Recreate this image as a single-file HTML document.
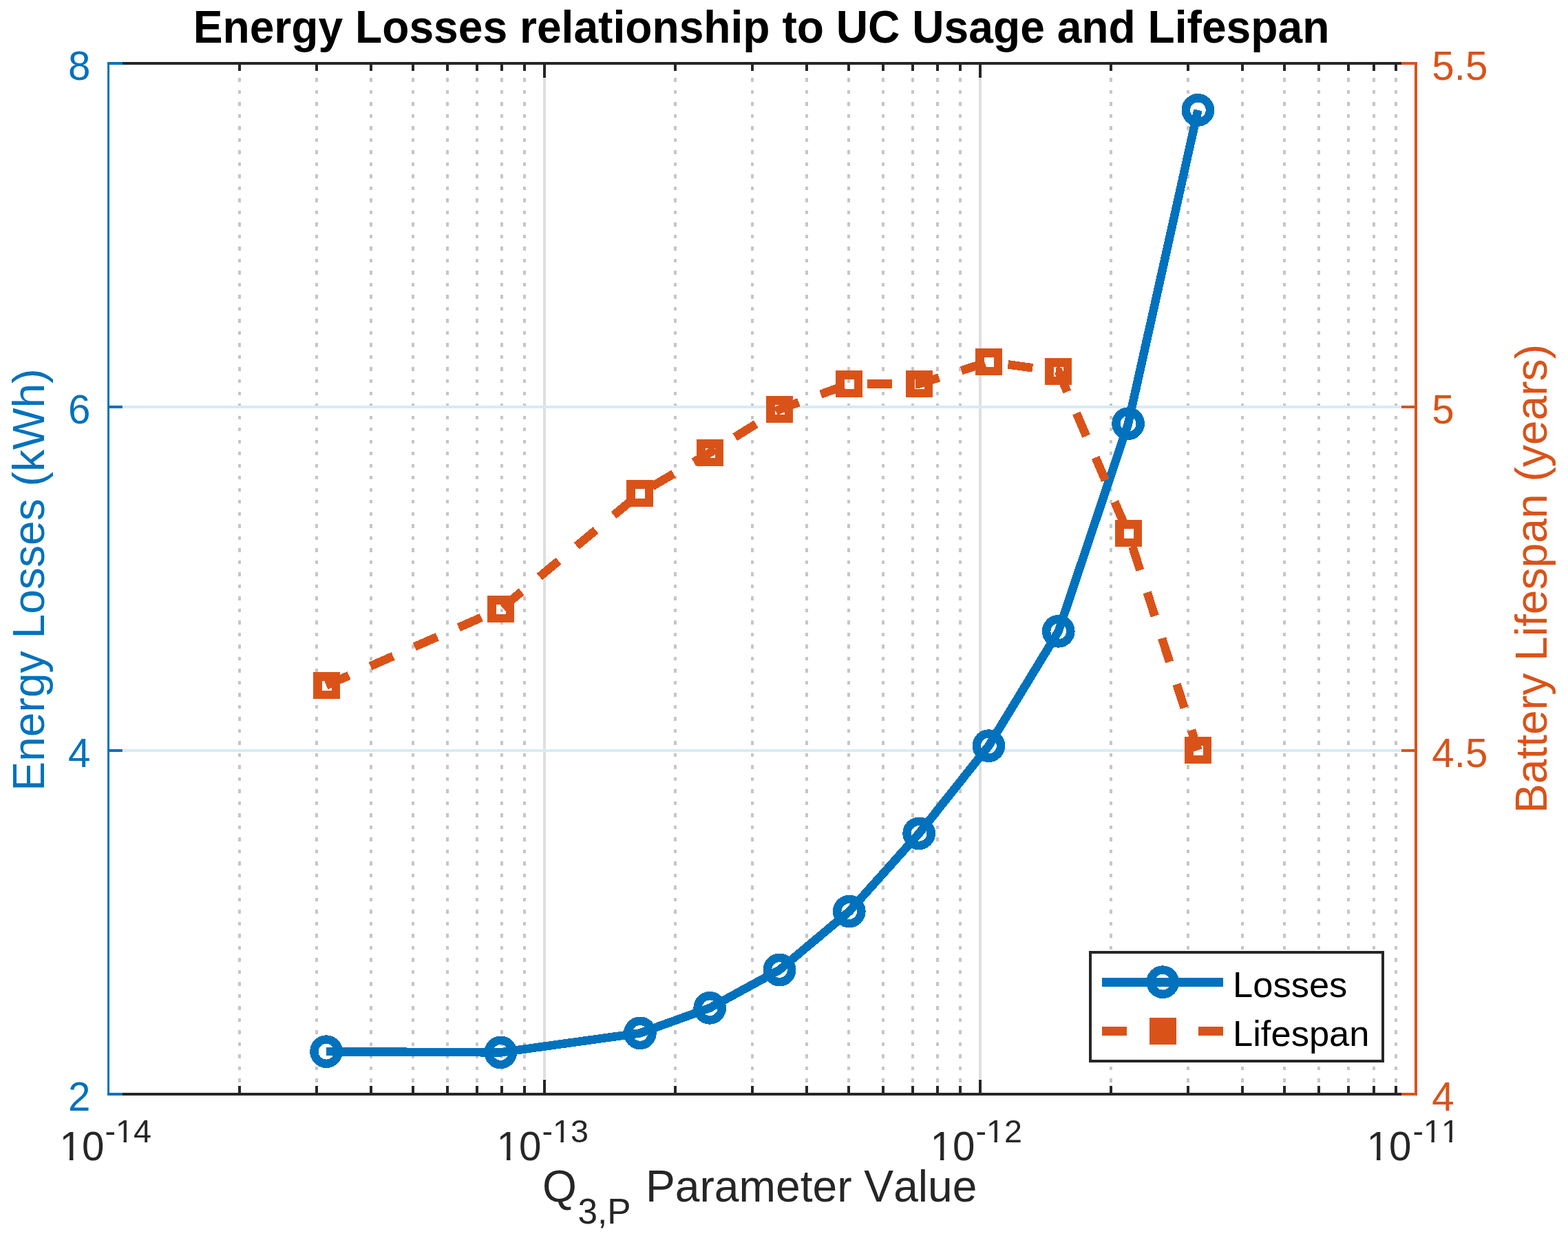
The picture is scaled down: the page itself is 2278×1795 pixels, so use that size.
<!DOCTYPE html>
<html lang="en"><head><meta charset="utf-8"><title>Energy Losses relationship to UC Usage and Lifespan</title>
<style>html,body{margin:0;padding:0;background:#fff}body{width:2278px;height:1795px;overflow:hidden}svg{display:block}text{font-family:"Liberation Sans",sans-serif;font-kerning:none}</style></head><body>
<svg width="2278" height="1795" viewBox="0 0 2278 1795">
<rect x="0" y="0" width="2278" height="1795" fill="#fff"/>
<g shape-rendering="crispEdges">
<g stroke="#c6c6c6" stroke-width="4" stroke-dasharray="5.45 12.055" fill="none">
<line x1="348" y1="1571.74" x2="348" y2="104"/>
<line x1="460" y1="1571.74" x2="460" y2="104"/>
<line x1="539" y1="1571.74" x2="539" y2="104"/>
<line x1="600" y1="1571.74" x2="600" y2="104"/>
<line x1="650" y1="1571.74" x2="650" y2="104"/>
<line x1="693" y1="1571.74" x2="693" y2="104"/>
<line x1="729" y1="1571.74" x2="729" y2="104"/>
<line x1="762" y1="1571.74" x2="762" y2="104"/>
<line x1="981" y1="1571.74" x2="981" y2="104"/>
<line x1="1093" y1="1571.74" x2="1093" y2="104"/>
<line x1="1172" y1="1571.74" x2="1172" y2="104"/>
<line x1="1233" y1="1571.74" x2="1233" y2="104"/>
<line x1="1283" y1="1571.74" x2="1283" y2="104"/>
<line x1="1326" y1="1571.74" x2="1326" y2="104"/>
<line x1="1362" y1="1571.74" x2="1362" y2="104"/>
<line x1="1395" y1="1571.74" x2="1395" y2="104"/>
<line x1="1614" y1="1571.74" x2="1614" y2="104"/>
<line x1="1726" y1="1571.74" x2="1726" y2="104"/>
<line x1="1805" y1="1571.74" x2="1805" y2="104"/>
<line x1="1866" y1="1571.74" x2="1866" y2="104"/>
<line x1="1916" y1="1571.74" x2="1916" y2="104"/>
<line x1="1959" y1="1571.74" x2="1959" y2="104"/>
<line x1="1996" y1="1571.74" x2="1996" y2="104"/>
<line x1="2028" y1="1571.74" x2="2028" y2="104"/>
</g>
<g fill="#dfdfdf">
<rect x="789" y="114" width="4" height="1453"/>
<rect x="1422" y="114" width="4" height="1453"/>
</g>
<g fill="#d9eaf5">
<rect x="179" y="589" width="1857" height="4"/>
<rect x="179" y="1088" width="1857" height="4"/>
</g>
</g>
<g shape-rendering="crispEdges">
<g stroke="#0072BD" stroke-width="12.5" fill="none" stroke-linejoin="miter">
<polyline points="474.03,1527.20 727.30,1528.40 929.91,1500.35 1031.22,1463.80 1132.53,1408.50 1233.83,1323.55 1335.14,1210.40 1436.45,1083.10 1537.75,916.80 1639.06,615.20 1740.37,159.90"/>
<circle cx="474.03" cy="1527.20" r="17.6"/>
<circle cx="727.30" cy="1528.40" r="17.6"/>
<circle cx="929.91" cy="1500.35" r="17.6"/>
<circle cx="1031.22" cy="1463.80" r="17.6"/>
<circle cx="1132.53" cy="1408.50" r="17.6"/>
<circle cx="1233.83" cy="1323.55" r="17.6"/>
<circle cx="1335.14" cy="1210.40" r="17.6"/>
<circle cx="1436.45" cy="1083.10" r="17.6"/>
<circle cx="1537.75" cy="916.80" r="17.6"/>
<circle cx="1639.06" cy="615.20" r="17.6"/>
<circle cx="1740.37" cy="159.90" r="17.6"/>
</g>
<g stroke="#D95319" stroke-width="12.5" fill="none" stroke-linejoin="miter">
<polyline points="474.03,995.50 727.30,884.50 929.91,716.50 1031.22,657.50 1132.53,594.50 1233.83,557.50 1335.14,557.50 1436.45,525.50 1537.75,539.50 1639.06,774.50 1740.37,1089.50" stroke-dasharray="36 34"/>
</g>
<g stroke="#D95319" stroke-width="12.5" fill="none">
<rect x="461.25" y="982.25" width="26.5" height="26.5"/>
<rect x="714.25" y="871.25" width="26.5" height="26.5"/>
<rect x="916.25" y="703.25" width="26.5" height="26.5"/>
<rect x="1018.25" y="644.25" width="26.5" height="26.5"/>
<rect x="1119.25" y="581.25" width="26.5" height="26.5"/>
<rect x="1220.25" y="544.25" width="26.5" height="26.5"/>
<rect x="1322.25" y="544.25" width="26.5" height="26.5"/>
<rect x="1423.25" y="512.25" width="26.5" height="26.5"/>
<rect x="1524.25" y="526.25" width="26.5" height="26.5"/>
<rect x="1626.25" y="761.25" width="26.5" height="26.5"/>
<rect x="1727.25" y="1076.25" width="26.5" height="26.5"/>
</g>
</g>
<g shape-rendering="crispEdges">
<g fill="#262626">
<rect x="178" y="90" width="1858" height="4"/>
<rect x="178" y="1587" width="1858" height="4"/>
<rect x="346" y="94" width="4" height="9"/>
<rect x="346" y="1577" width="4" height="10"/>
<rect x="458" y="94" width="4" height="9"/>
<rect x="458" y="1577" width="4" height="10"/>
<rect x="537" y="94" width="4" height="9"/>
<rect x="537" y="1577" width="4" height="10"/>
<rect x="598" y="94" width="4" height="9"/>
<rect x="598" y="1577" width="4" height="10"/>
<rect x="648" y="94" width="4" height="9"/>
<rect x="648" y="1577" width="4" height="10"/>
<rect x="691" y="94" width="4" height="9"/>
<rect x="691" y="1577" width="4" height="10"/>
<rect x="727" y="94" width="4" height="9"/>
<rect x="727" y="1577" width="4" height="10"/>
<rect x="760" y="94" width="4" height="9"/>
<rect x="760" y="1577" width="4" height="10"/>
<rect x="789" y="94" width="4" height="19"/>
<rect x="789" y="1568" width="4" height="19"/>
<rect x="979" y="94" width="4" height="9"/>
<rect x="979" y="1577" width="4" height="10"/>
<rect x="1091" y="94" width="4" height="9"/>
<rect x="1091" y="1577" width="4" height="10"/>
<rect x="1170" y="94" width="4" height="9"/>
<rect x="1170" y="1577" width="4" height="10"/>
<rect x="1231" y="94" width="4" height="9"/>
<rect x="1231" y="1577" width="4" height="10"/>
<rect x="1281" y="94" width="4" height="9"/>
<rect x="1281" y="1577" width="4" height="10"/>
<rect x="1324" y="94" width="4" height="9"/>
<rect x="1324" y="1577" width="4" height="10"/>
<rect x="1360" y="94" width="4" height="9"/>
<rect x="1360" y="1577" width="4" height="10"/>
<rect x="1393" y="94" width="4" height="9"/>
<rect x="1393" y="1577" width="4" height="10"/>
<rect x="1422" y="94" width="4" height="19"/>
<rect x="1422" y="1568" width="4" height="19"/>
<rect x="1612" y="94" width="4" height="9"/>
<rect x="1612" y="1577" width="4" height="10"/>
<rect x="1724" y="94" width="4" height="9"/>
<rect x="1724" y="1577" width="4" height="10"/>
<rect x="1803" y="94" width="4" height="9"/>
<rect x="1803" y="1577" width="4" height="10"/>
<rect x="1864" y="94" width="4" height="9"/>
<rect x="1864" y="1577" width="4" height="10"/>
<rect x="1914" y="94" width="4" height="9"/>
<rect x="1914" y="1577" width="4" height="10"/>
<rect x="1957" y="94" width="4" height="9"/>
<rect x="1957" y="1577" width="4" height="10"/>
<rect x="1994" y="94" width="4" height="9"/>
<rect x="1994" y="1577" width="4" height="10"/>
<rect x="2026" y="94" width="4" height="9"/>
<rect x="2026" y="1577" width="4" height="10"/>
</g>
<g fill="#0072BD">
<rect x="156" y="90" width="3" height="1501"/>
<rect x="156" y="90" width="22" height="4"/>
<rect x="156" y="589" width="22" height="4"/>
<rect x="156" y="1088" width="22" height="4"/>
<rect x="156" y="1587" width="22" height="4"/>
</g>
<g fill="#D95319">
<rect x="2055" y="90" width="4" height="1501"/>
<rect x="2036" y="90" width="23" height="4"/>
<rect x="2036" y="589" width="23" height="4"/>
<rect x="2036" y="1088" width="23" height="4"/>
<rect x="2036" y="1587" width="23" height="4"/>
</g>
<rect x="1582" y="1381" width="429" height="162" fill="#262626"/>
<rect x="1586" y="1385" width="421" height="154" fill="#fff"/>
</g>
<g shape-rendering="crispEdges">
<rect x="1601" y="1420" width="176" height="13" fill="#0072BD"/>
<circle cx="1689.2" cy="1426.2" r="17.6" fill="none" stroke="#0072BD" stroke-width="12.5"/>
<rect x="1601" y="1491" width="36" height="13" fill="#D95319"/>
<rect x="1741" y="1491" width="36" height="13" fill="#D95319"/>
<rect x="1670" y="1478" width="39" height="39" fill="#D95319"/>
</g>
<g font-size="52.5" fill="#000">
<text x="1791" y="1448">Losses</text>
<text x="1791" y="1519">Lifespan</text>
</g>
<text transform="translate(1106,61.9) scale(1,1.05)" font-size="64.17" font-weight="bold" text-anchor="middle" fill="#000">Energy Losses relationship to UC Usage and Lifespan</text>
<g font-size="58.33" fill="#0072BD" text-anchor="end">
<text x="131.5" y="116.20">8</text>
<text x="131.5" y="615.20">6</text>
<text x="131.5" y="1114.20">4</text>
<text x="131.5" y="1613.20">2</text>
</g>
<g font-size="58.33" fill="#D95319" text-anchor="start">
<text x="2080.3" y="116.20">5.5</text>
<text x="2080.3" y="615.20">5</text>
<text x="2080.3" y="1114.20">4.5</text>
<text x="2080.3" y="1613.20">4</text>
</g>
<g fill="#262626">
<text x="151.5" y="1685" font-size="58.33" text-anchor="end">10</text>
<text x="152.5" y="1659" font-size="46.67">-14</text>
<text x="786.5" y="1685" font-size="58.33" text-anchor="end">10</text>
<text x="787.4" y="1659" font-size="46.67">-13</text>
<text x="1416.5" y="1685" font-size="58.33" text-anchor="end">10</text>
<text x="1417.4" y="1659" font-size="46.67">-12</text>
<text x="2050.5" y="1685" font-size="58.33" text-anchor="end">10</text>
<text x="2052.4" y="1659" font-size="46.67">-11</text>
</g>
<g fill="#fff">
<rect x="89.54" y="1679.17" width="11.46" height="7"/>
<rect x="106.42" y="1679.17" width="11.08" height="7"/>
<rect x="170.38" y="1654.33" width="9.17" height="5.6"/>
<rect x="183.89" y="1654.33" width="8.87" height="5.6"/>
<rect x="724.54" y="1679.17" width="11.46" height="7"/>
<rect x="741.42" y="1679.17" width="11.08" height="7"/>
<rect x="805.28" y="1654.33" width="9.17" height="5.6"/>
<rect x="818.79" y="1654.33" width="8.87" height="5.6"/>
<rect x="1354.54" y="1679.17" width="11.46" height="7"/>
<rect x="1371.42" y="1679.17" width="11.08" height="7"/>
<rect x="1435.28" y="1654.33" width="9.17" height="5.6"/>
<rect x="1448.79" y="1654.33" width="8.87" height="5.6"/>
<rect x="1988.54" y="1679.17" width="11.46" height="7"/>
<rect x="2005.42" y="1679.17" width="11.08" height="7"/>
<rect x="2070.28" y="1654.33" width="9.17" height="5.6"/>
<rect x="2083.79" y="1654.33" width="8.87" height="5.6"/>
<rect x="2096.23" y="1654.33" width="9.17" height="5.6"/>
<rect x="2109.74" y="1654.33" width="8.87" height="5.6"/>
</g>
<g fill="#262626">
<text x="788" y="1745.4" font-size="64.17">Q</text>
<text x="839.5" y="1776.8" font-size="51.33">3,P</text>
<text x="938" y="1745.4" font-size="64.17">Parameter Value</text>
</g>
<text transform="translate(63.7,842) rotate(-90)" font-size="64.17" fill="#0072BD" text-anchor="middle">Energy Losses (kWh)</text>
<text transform="translate(2246.9,840.5) rotate(-90)" font-size="64.17" fill="#D95319" text-anchor="middle">Battery Lifespan (years)</text>
</svg></body></html>
